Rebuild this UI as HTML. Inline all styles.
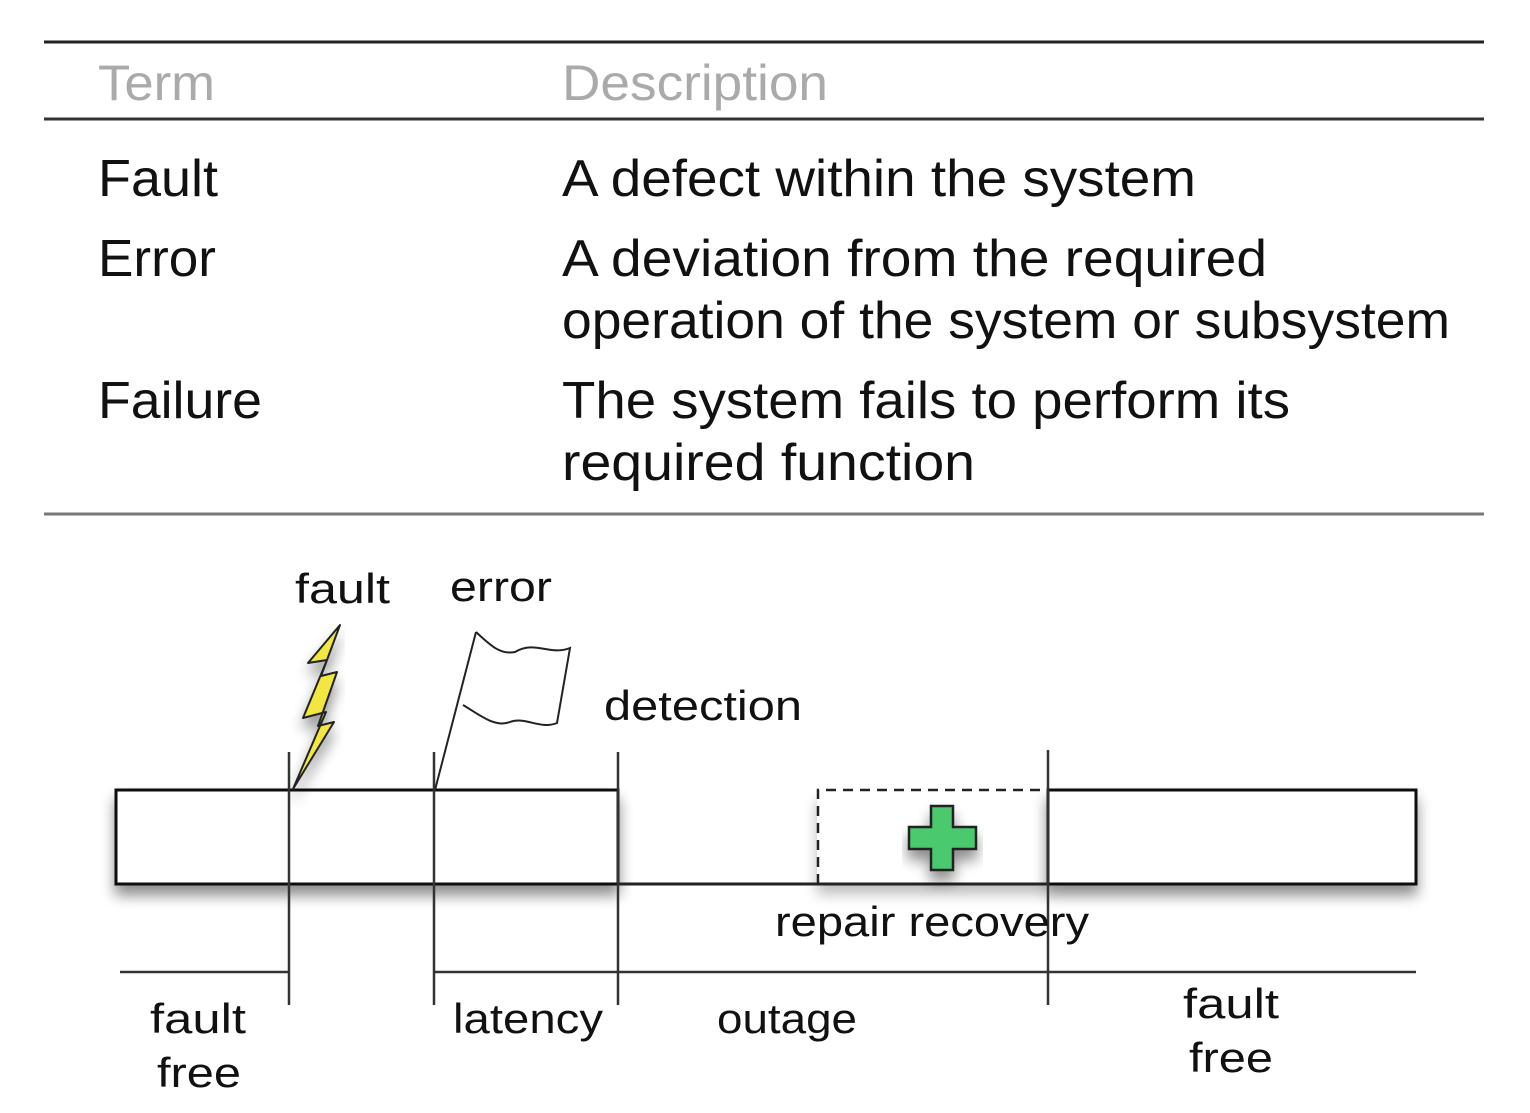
<!DOCTYPE html>
<html><head><meta charset="utf-8"><style>html,body{margin:0;padding:0;background:#fff}svg{display:block}</style></head>
<body>
<svg width="1530" height="1113" viewBox="0 0 1530 1113" xmlns="http://www.w3.org/2000/svg" font-family="Liberation Sans, sans-serif">
<defs>
<filter id="sh" x="-10%" y="-30%" width="120%" height="180%"><feGaussianBlur in="SourceAlpha" stdDeviation="7"/><feOffset dx="0" dy="10"/><feComponentTransfer><feFuncA type="linear" slope="0.45"/></feComponentTransfer><feMerge><feMergeNode/><feMergeNode in="SourceGraphic"/></feMerge></filter>
</defs>
<line x1="44" y1="42" x2="1484" y2="42" stroke="#222" stroke-width="3"/>
<line x1="44" y1="119" x2="1484" y2="119" stroke="#333" stroke-width="3"/>
<line x1="44" y1="514" x2="1484" y2="514" stroke="#777" stroke-width="3"/>
<g font-size="50" fill="#aaa">
<text x="98" y="100" textLength="117" lengthAdjust="spacingAndGlyphs">Term</text>
<text x="562" y="100" textLength="266" lengthAdjust="spacingAndGlyphs">Description</text>
</g>
<g font-size="52" fill="#111">
<text x="98" y="196" textLength="120" lengthAdjust="spacingAndGlyphs">Fault</text>
<text x="98" y="276" textLength="118" lengthAdjust="spacingAndGlyphs">Error</text>
<text x="98" y="418" textLength="164" lengthAdjust="spacingAndGlyphs">Failure</text>
<text x="562" y="196" textLength="634" lengthAdjust="spacingAndGlyphs">A defect within the system</text>
<text x="562" y="276" textLength="705" lengthAdjust="spacingAndGlyphs">A deviation from the required</text>
<text x="562" y="338" textLength="888" lengthAdjust="spacingAndGlyphs">operation of the system or subsystem</text>
<text x="562" y="418" textLength="728" lengthAdjust="spacingAndGlyphs">The system fails to perform its</text>
<text x="562" y="480" textLength="413" lengthAdjust="spacingAndGlyphs">required function</text>
</g>
<!-- boxes -->
<rect x="116" y="790" width="502" height="94" fill="#fff" stroke="#111" stroke-width="3" filter="url(#sh)"/>
<rect x="817" y="790" width="231" height="94" fill="#fff" filter="url(#sh)" opacity="0.6"/>
<rect x="1048" y="790" width="368" height="94" fill="#fff" stroke="#111" stroke-width="3" filter="url(#sh)"/>
<path d="M818 884 V790 H1048" fill="none" stroke="#222" stroke-width="2.5" stroke-dasharray="10,7"/>
<line x1="618" y1="884" x2="1048" y2="884" stroke="#222" stroke-width="3"/>
<!-- verticals -->
<g stroke="#333" stroke-width="2.5">
<line x1="289" y1="752" x2="289" y2="1005"/>
<line x1="434" y1="752" x2="434" y2="1005"/>
<line x1="618" y1="752" x2="618" y2="1005"/>
<line x1="1048" y1="750" x2="1048" y2="1005"/>
<line x1="120" y1="972" x2="289" y2="972"/>
<line x1="434" y1="972" x2="1416" y2="972"/>
</g>
<!-- lightning -->
<path d="M293 789 L326 712 L303 718 L327 660 L308 663 L340 625 L321 676 L337 672 L318 726 L334 722 Z" fill="#f2e640" stroke="#222" stroke-width="2" stroke-linejoin="round" filter="url(#sh)"/>
<!-- flag -->
<g fill="none" stroke="#222" stroke-width="2">
<line x1="435" y1="790" x2="476" y2="632"/>
<path d="M476 632 C490 645 500 655 515 652 C535 640 550 656 570 648 L557 723 C540 730 525 716 510 722 C495 728 480 715 463 705"/>
</g>
<!-- cross -->
<path d="M931 806 H953 V827 H976 V849 H953 V870 H931 V849 H909 V827 H931 Z" fill="#4bc96e" stroke="#222" stroke-width="2.5" filter="url(#sh)"/>
<g font-size="42" fill="#111">
<text x="295" y="603" textLength="95" lengthAdjust="spacingAndGlyphs">fault</text>
<text x="450" y="601" textLength="102" lengthAdjust="spacingAndGlyphs">error</text>
<text x="604" y="720" textLength="198" lengthAdjust="spacingAndGlyphs">detection</text>
<text x="775" y="936" textLength="314" lengthAdjust="spacingAndGlyphs">repair recovery</text>
<text x="150" y="1033" textLength="96" lengthAdjust="spacingAndGlyphs">fault</text>
<text x="157" y="1087" textLength="84" lengthAdjust="spacingAndGlyphs">free</text>
<text x="453" y="1033" textLength="150" lengthAdjust="spacingAndGlyphs">latency</text>
<text x="717" y="1033" textLength="140" lengthAdjust="spacingAndGlyphs">outage</text>
<text x="1183" y="1018" textLength="96" lengthAdjust="spacingAndGlyphs">fault</text>
<text x="1189" y="1072" textLength="84" lengthAdjust="spacingAndGlyphs">free</text>
</g>
</svg>
</body></html>
